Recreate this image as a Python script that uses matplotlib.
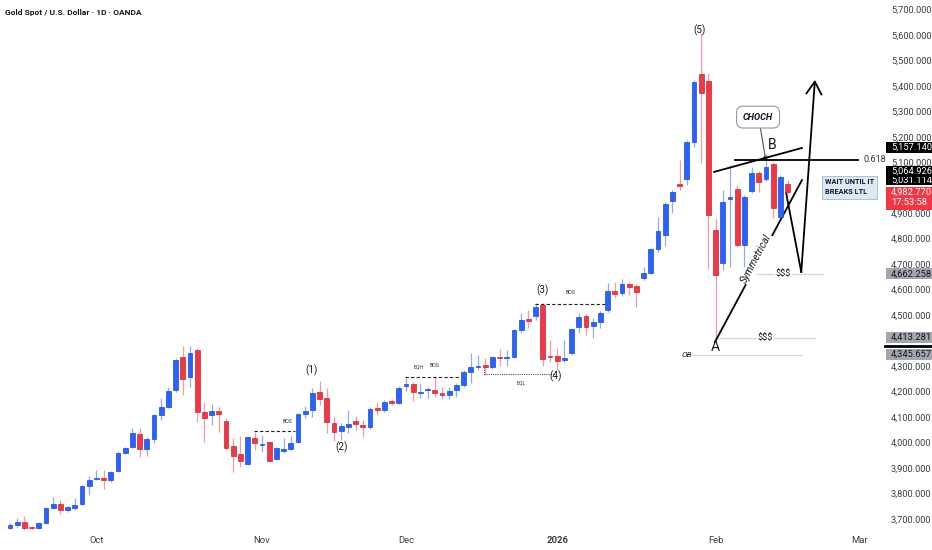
import numpy as np
import matplotlib.pyplot as plt
from matplotlib.patches import Rectangle

plt.rcParams['font.family'] = ['Liberation Sans Narrow', 'Roboto', 'DejaVu Sans']

# daily candles, XAUUSD
opens = [3665, 3676, 3688, 3668, 3665, 3684, 3743, 3759, 3735, 3743,
         3759, 3829, 3857, 3861, 3853, 3888, 3959, 3982, 4033, 3975,
         4014, 4108, 4139, 4206, 4336, 4257, 4363, 4120, 4108, 4124,
         4084, 3986, 3955, 3915, 4018, 3990, 4002, 3935, 3967, 3975,
         4002, 4112, 4128, 4198, 4175, 4077, 4045, 4061, 4084, 4069,
         4061, 4135, 4128, 4163, 4155, 4222, 4230, 4196, 4208, 4206,
         4194, 4186, 4206, 4226, 4277, 4298, 4304, 4296, 4336, 4332,
         4336, 4442, 4485, 4497, 4540, 4338, 4340, 4324, 4351, 4453,
         4497, 4457, 4473, 4520, 4595, 4587, 4622, 4614, 4646, 4665,
         4759, 4814, 4948, 5014, 5034, 5179, 5446, 5419, 4834, 4704,
         4957, 4995, 4775, 4987, 5058, 5034, 5093, 4885, 5015]
highs = [3684, 3705, 3710, 3672, 3690, 3748, 3786, 3775, 3752, 3782,
         3833, 3868, 3892, 3892, 3888, 3965, 3984, 4057, 4057, 4020,
         4112, 4175, 4218, 4330, 4379, 4379, 4371, 4159, 4151, 4139,
         4096, 4018, 4025, 4025, 4041, 4029, 4006, 3984, 4018, 4025,
         4116, 4143, 4214, 4241, 4214, 4104, 4077, 4128, 4104, 4088,
         4140, 4159, 4167, 4170, 4220, 4253, 4238, 4234, 4218, 4257,
         4218, 4218, 4234, 4283, 4351, 4343, 4332, 4340, 4367, 4363,
         4446, 4508, 4520, 4548, 4548, 4402, 4371, 4402, 4450, 4508,
         4505, 4489, 4516, 4626, 4630, 4642, 4630, 4622, 4689, 4765,
         4885, 4944, 4991, 5109, 5187, 5423, 5607, 5450, 4881, 4991,
         5089, 5011, 4971, 5081, 5066, 5120, 5101, 5050, 5030]
lows = [3660, 3670, 3658, 3655, 3660, 3680, 3738, 3720, 3728, 3735,
        3755, 3794, 3852, 3817, 3845, 3884, 3955, 3978, 3943, 3947,
        3998, 4088, 4135, 4198, 4186, 4218, 4080, 4002, 4069, 4041,
        3971, 3884, 3904, 3910, 3971, 3963, 3922, 3931, 3959, 3970,
        3998, 4096, 4100, 4147, 4037, 4006, 4010, 4037, 4049, 4022,
        4055, 4108, 4120, 4147, 4150, 4202, 4163, 4175, 4175, 4179,
        4171, 4171, 4179, 4218, 4234, 4284, 4265, 4290, 4300, 4300,
        4330, 4430, 4450, 4481, 4300, 4316, 4284, 4316, 4345, 4430,
        4422, 4410, 4450, 4512, 4567, 4575, 4579, 4532, 4638, 4660,
        4748, 4771, 4900, 4991, 5011, 5160, 5097, 4681, 4402, 4677,
        4689, 4767, 4689, 4979, 4983, 5026, 4881, 4873, 4970]
closes = [3676, 3688, 3665, 3664, 3684, 3743, 3759, 3735, 3747, 3755,
          3829, 3853, 3861, 3853, 3884, 3959, 3978, 4037, 3975, 4014,
          4108, 4139, 4202, 4324, 4249, 4351, 4120, 4096, 4124, 4112,
          3978, 3947, 3927, 4022, 3998, 3994, 3927, 3978, 3975, 3998,
          4112, 4124, 4194, 4171, 4081, 4041, 4065, 4073, 4073, 4061,
          4132, 4128, 4159, 4155, 4214, 4230, 4198, 4200, 4212, 4194,
          4186, 4202, 4226, 4277, 4296, 4302, 4296, 4336, 4332, 4336,
          4442, 4481, 4477, 4532, 4328, 4334, 4320, 4332, 4446, 4493,
          4453, 4473, 4508, 4595, 4583, 4622, 4610, 4591, 4665, 4759,
          4830, 4936, 4983, 5007, 5179, 5415, 5372, 4893, 4657, 4944,
          4962, 4775, 4963, 5058, 5022, 5081, 4920, 5042, 4983]

month_pos = [12, 35, 55, 76, 98, 118]
month_labels = ['Oct', 'Nov', 'Dec', '2026', 'Feb', 'Mar']
price_ticks = list(range(3700, 5701, 100))

# highlighted prices on the right scale: (price, text, background, text colour)
scale_tags = [(5157.14, '5,157.140', '#000000', 'white'),
              (5031.114, '5,031.114', '#000000', 'white'),
              (5064.926, '5,064.926', '#000000', 'white'),
              (4662.258, '4,662.258', '#a3a6ad', '#131722'),
              (4413.281, '4,413.281', '#a3a6ad', '#131722'),
              (4345.657, '4,345.657', '#a3a6ad', '#131722')]
last_price = 4982.77
countdown = '17:53:58'

fig = plt.figure(figsize=(9.32, 5.5), dpi=100)
ax = fig.add_axes([0, 20 / 550, 868 / 932, 530 / 550])

o = np.array(opens, float)
h = np.array(highs, float)
l = np.array(lows, float)
c = np.array(closes, float)
x = np.arange(len(o))
up = c >= o

body_col = np.where(up, '#2962ff', '#f23645')
edge_col = np.where(up, '#1d4ccc', '#c42838')
wick_col = np.where(up, '#93abf5', '#f59aa3')

ax.vlines(x, l, h, colors=wick_col, linewidth=0.9, zorder=2)
ax.bar(x, np.maximum(np.abs(c - o), 4), 0.68, np.minimum(o, c),
       color=body_col, edgecolor=edge_col, linewidth=0.5, zorder=3)

ax.set_xlim(-1.39, 119.17)
ax.set_ylim(3656.8, 5736.5)
for s in ax.spines.values():
    s.set_visible(False)

# scale labels hidden where a price tag sits on top of them
tag_prices = [t[0] for t in scale_tags] + [last_price]
tick_text = ['' if min(abs(v - p) for p in tag_prices) < 32 else f'{v:,.3f}'
             for v in price_ticks]
ax.yaxis.tick_right()
ax.set_yticks(price_ticks, tick_text)
ax.tick_params(axis='y', length=0, pad=16.5, labelsize=6.7, labelcolor='#3b3e47')
ax.set_xticks(month_pos, month_labels)
ax.tick_params(axis='x', length=0, pad=4, labelsize=6.8, labelcolor='#3b3e47')
ax.get_xticklabels()[3].set_fontweight('bold')

fig.text(5 / 932, 1 - 13 / 550, 'Gold Spot / U.S. Dollar · 1D · OANDA',
         fontsize=6.0, fontweight='bold', color='#131722', va='center')

# right scale tags: a box spanning the scale width, text aligned with tick labels
ytr = ax.get_yaxis_transform()
box_x0, box_w, txt_x = 886 / 868, 46 / 868, 891 / 868
for p, t, bg, fg in scale_tags:
    ax.add_patch(Rectangle((box_x0, p - 21.5), box_w, 43, transform=ytr,
                           fc=bg, ec='none', clip_on=False, zorder=10))
    ax.text(txt_x, p, t, transform=ytr, ha='left', va='center', fontsize=6.7,
            color=fg, clip_on=False, zorder=10)
ax.add_patch(Rectangle((box_x0, last_price - 70), box_w, 90, transform=ytr,
                       fc='#f23645', ec='none', clip_on=False, zorder=11))
ax.text(txt_x, last_price, f'{last_price:,.3f}', transform=ytr, ha='left', va='center',
        fontsize=6.7, color='white', clip_on=False, zorder=11)
ax.text(txt_x, last_price - 40, countdown, transform=ytr, ha='left', va='center',
        fontsize=6.7, color='white', clip_on=False, zorder=11)
ax.plot([1.02, 1.074], [4379, 4379], transform=ytr, color='black', lw=2,
        clip_on=False, zorder=12)

# wave counts
for xi, yi, t in [(41.9, 4285, '(1)'), (46.0, 3982, '(2)'), (73.9, 4598, '(3)'),
                  (75.8, 4261, '(4)'), (95.8, 5619, '(5)')]:
    ax.text(xi, yi, t, fontsize=7, color='#131722', ha='center', va='center')

# structure lines
ax.plot([33.9, 39.6], [4045, 4045], ls=(0, (3, 2)), color='#222', lw=0.8)
ax.text(38.5, 4084, 'BOS', fontsize=3.8, color='#333', ha='center', va='center')
ax.plot([54.9, 62.5], [4257, 4257], ls=(0, (3, 2)), color='#222', lw=0.8)
ax.text(56.8, 4295, 'EQH', fontsize=3.8, color='#333', ha='center', va='center')
ax.text(58.9, 4301, 'BOS', fontsize=3.8, color='#333', ha='center', va='center')
ax.plot([65.8, 65.8, 75.7], [4296, 4269, 4269], ls=(0, (1, 1)), color='#555', lw=0.8)
ax.text(71, 4233, 'EQL', fontsize=3.8, color='#333', ha='center', va='center')
ax.plot([72.9, 82.6], [4544, 4544], ls=(0, (3, 2)), color='#222', lw=0.8)
ax.text(77.9, 4587, 'BOS', fontsize=3.8, color='#333', ha='center', va='center')

# liquidity / OB
ax.plot([94.9, 110], [4343, 4343], color='#d5d7dc', lw=0.9)
ax.text(94.0, 4343, 'OB', fontsize=6, style='italic', color='#131722', ha='center', va='center')
ax.plot([98.3, 111.8], [4410, 4410], color='#d5d7dc', lw=0.9)
ax.text(104.9, 4410, '$$$', fontsize=6.5, color='#131722', ha='center', va='center',
        bbox=dict(fc='white', ec='none', pad=0.5))
ax.plot([103.75, 112.9], [4661, 4661], color='#d5d7dc', lw=0.9)
ax.text(107.4, 4661, '$$$', fontsize=6.5, color='#131722', ha='center', va='center',
        bbox=dict(fc='white', ec='none', pad=0.5))

ax.text(97.9, 4375, 'A', fontsize=10, color='#131722', ha='center', va='center')
ax.text(105.8, 5167, 'B', fontsize=10, color='#131722', ha='center', va='center')

# CHOCH callout
ax.plot([104.2, 104.9], [5238, 5120], color='#555', lw=0.8)
ax.plot([104.9], [5120], 'o', ms=2.5, mfc='#888', mec='#444', mew=0.5)
ax.text(103.9, 5277, 'CHOCH', fontsize=6.6, fontweight='bold', style='italic',
        color='#131722', ha='center', va='center',
        bbox=dict(boxstyle='round,pad=0.7', fc='white', ec='#9598a1', lw=0.8))

# trend lines and fib level
ax.plot([97.8, 110], [5062, 5156], color='black', lw=1.3)
ax.plot([100.7, 117.8], [5109, 5109], color='black', lw=1.3)
ax.text(118.5, 5109, '0.618', fontsize=6.5, color='#333', ha='left', va='center', clip_on=False)
ax.plot([97.9, 110], [4394, 5030], color='black', lw=1.3)
ax.text(103.6, 4722, 'Symmetrical', fontsize=7.2, style='italic', color='#131722',
        rotation=62, ha='center', va='center', bbox=dict(fc='white', ec='none', pad=0.3))

# projected path
ax.plot([107.8, 109.9], [4979, 4669], color='black', lw=1.3)
ax.annotate('', xy=(111.8, 5423), xytext=(109.9, 4669),
            arrowprops=dict(arrowstyle='->,head_length=0.9,head_width=0.55',
                            color='black', lw=1.3, shrinkA=0, shrinkB=0))

ax.text(113.2, 5001, 'WAIT UNTIL IT\nBREAKS LTL', fontsize=5.3, fontweight='bold',
        color='#131722', ha='left', va='center', linespacing=1.35, clip_on=False,
        bbox=dict(boxstyle='square,pad=0.35', fc='#dce9f5', ec='#a8c2dc', lw=0.7))

plt.savefig('out.png', dpi=100, facecolor='white')
